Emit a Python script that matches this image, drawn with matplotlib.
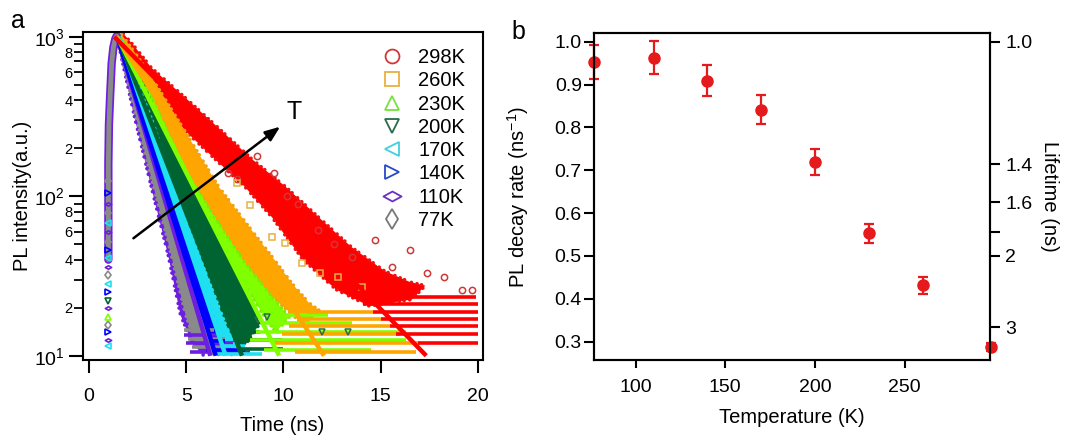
import numpy as np
import matplotlib
matplotlib.use('Agg')
import matplotlib.pyplot as plt
from matplotlib.path import Path
from matplotlib.lines import Line2D
from matplotlib.ticker import FixedLocator, FuncFormatter

plt.rcParams['font.family'] = ['Liberation Sans', 'DejaVu Sans']
plt.rcParams['mathtext.fontset'] = 'custom'
plt.rcParams['mathtext.rm'] = 'Liberation Sans'
plt.rcParams['mathtext.it'] = 'Liberation Sans:italic'
plt.rcParams['mathtext.bf'] = 'Liberation Sans:bold'

# ------------------------------------------------------------------ data
# panel b
temperatures = [77, 110, 140, 170, 200, 230, 260, 298]
decay_rate = [0.953, 0.963, 0.909, 0.841, 0.720, 0.553, 0.431, 0.287]
decay_err = [0.039, 0.038, 0.036, 0.034, 0.030, 0.022, 0.019, 0.010]
lifetime_ticks = [1.0, 1.4, 1.6, 1.8, 2, 3]
lifetime_labels = ['1.0', '1.4', '1.6', '', '2', '3']

# panel a (series order: 298K ... 77K)
series_labels = ['298K', '260K', '230K', '200K', '170K', '140K', '110K', '77K']
series_rate = [0.287, 0.431, 0.553, 0.720, 0.841, 0.909, 0.963, 0.953]
fit_start = [1.30, 1.40, 1.45, 1.47, 1.55, 1.45, 1.45, 1.45]

band_298_t = [1.60, 1.75, 2.4, 3.2, 4.9, 6.7, 8.4, 10.1, 11.8, 13.5, 15.2, 16.5, 17.3, 16.6, 14.4, 12.7, 11.0, 9.4, 8.0, 6.7, 4.9, 3.2, 2.0]
band_298_v = [1000, 1050, 850, 640, 420, 265, 170, 115, 74, 48, 34, 29, 27.5, 22.5, 20.5, 26, 40, 74, 115, 161, 260, 560, 900]
band_260_t = [1.50, 1.65, 2.4, 3.2, 4.94, 6.66, 8.37, 9.4, 10.43, 11.3, 11.9, 11.0, 10.77, 9.4, 8.03, 6.66, 4.94, 3.23, 2.0]
band_260_v = [1000, 1040, 780, 560, 255, 115, 61, 42, 28.5, 21.5, 19, 15.5, 16.7, 23.5, 38, 67.7, 146, 421, 850]
band_230_t = [1.45, 1.55, 3.23, 4.94, 6.66, 8.03, 9.4, 10.3, 9.6, 8.9, 8.37, 7.51, 6.66, 5.46, 4.08, 2.6]
band_230_v = [1000, 1030, 421, 146, 67.7, 38, 23.5, 17.5, 14.0, 18.5, 23.5, 34.4, 55.7, 109, 225, 560]
band_200_t = [1.45, 1.5, 2.6, 4.08, 5.46, 6.66, 7.51, 8.3, 8.8, 8.0, 7.6, 7.0, 6.31, 5.63, 4.94, 4.08, 3.23]
band_200_v = [1000, 1020, 560, 225, 109, 55.7, 34.4, 22, 16, 11.5, 11.5, 15, 25, 42, 70, 140, 280]
band_170_t = [1.45, 1.5, 3.23, 4.08, 4.94, 5.63, 6.31, 7.0, 7.6, 7.3, 6.31, 5.63, 4.94, 4.08, 3.23]
band_170_v = [1000, 1020, 300, 150, 75, 45, 27, 16, 11.5, 10, 16, 28, 50, 105, 220]
band_140_t = [1.42, 1.48, 3.23, 4.08, 4.94, 5.63, 6.31, 6.9, 6.6, 5.63, 4.94, 4.08, 3.23]
band_140_v = [1000, 1020, 240, 118, 57, 32, 18.5, 11, 10, 18, 33, 75, 165]
band_110_t = [1.35, 1.45, 3.23, 4.08, 4.94, 5.63, 6.3, 5.9, 5.3, 4.7, 4.08, 3.23, 2.37, 1.6]
band_110_v = [1000, 1020, 200, 92, 42, 22.4, 12.5, 10, 12, 18, 42, 110, 300, 800]
band_77_t = [1.35, 1.42, 3.23, 4.08, 4.94, 5.63, 6.2, 5.46, 4.94, 4.08, 3.23, 2.37, 1.6]
band_77_v = [1000, 1010, 190, 88, 40, 21, 12.5, 12, 18.5, 50.7, 126, 331, 820]

# quantised low-count rows in the tails: level, start time, end time
rows_298_level = [12.0, 13.7, 15.3, 16.9, 18.8, 21.0, 23.4]
rows_298_t0 = [16.9, 15.8, 15.5, 15.0, 14.6, 14.1, 13.5]
rows_298_t1 = [20.0, 20.0, 20.0, 20.0, 20.0, 20.0, 19.9]
rows_260_level = [10.6, 12.0, 13.7, 15.3, 16.9, 18.8]
rows_260_t0 = [10.6, 9.4, 9.9, 10.3, 10.8, 11.2]
rows_260_t1 = [16.8, 17.0, 16.0, 15.5, 15.0, 14.6]
rows_230_level = [10.9, 12.5, 14.1, 16.0, 18.0]
rows_230_t0 = [9.0, 8.3, 8.6, 9.0, 9.4]
rows_230_t1 = [14.5, 16.3, 16.3, 13.5, 12.3]
rows_200_level = [11.0, 12.5, 14.1]
rows_200_t0 = [7.6, 7.4, 7.3]
rows_200_t1 = [10.0, 9.9, 8.8]
rows_170_level = [10.3, 11.5]
rows_170_t0 = [6.5, 6.8]
rows_170_t1 = [8.9, 8.0]
rows_140_level = [10.8, 12.3]
rows_140_t0 = [6.0, 6.2]
rows_140_t1 = [8.0, 7.0]
rows_110_level = [10.6, 12.0, 13.5]
rows_110_t0 = [5.2, 5.0, 4.9]
rows_110_t1 = [8.3, 7.4, 6.6]
rows_77_level = [11.3, 12.7, 14.5]
rows_77_t0 = [5.3, 5.1, 4.9]
rows_77_t1 = [7.3, 7.0, 6.4]

# scattered outlying points
out_298_t = [7.17, 7.6, 8.63, 9.49, 10.2, 10.77, 11.8, 12.6, 13.52, 14.72, 15.6, 16.52, 17.4, 18.24, 19.18, 19.7]
out_298_v = [139, 128, 179, 139, 100, 90, 61, 50, 41.7, 53, 36, 46, 33, 31, 25.8, 25.8]
out_260_t = [7.6, 8.3, 9.4, 10.09, 10.95, 11.9, 12.83, 14.03]
out_260_v = [121, 88, 55.7, 50.6, 38, 33, 31, 27]
out_200_t = [8.71, 9.14, 11.97, 13.3]
out_200_v = [16.7, 17.6, 14.1, 14.1]

# common rising edge and the pre-pulse column of points at t ~ 1 ns
rise_t = [0.99, 0.99, 1.02, 1.08, 1.16, 1.25, 1.35, 1.42]
rise_v = [40, 160, 280, 421, 682, 860, 970, 1010]
column_v = [11.5, 12.5, 14, 15.5, 17.5, 20, 22, 25, 28, 32, 36, 41, 46, 52, 60, 68, 78, 90, 105, 125]
column_series = [4, 6, 5, 7, 2, 6, 3, 5, 4, 7, 6, 4, 5, 7, 6, 4, 7, 6, 5, 7]

# ------------------------------------------------------------------ style
band_colors = ['#ff0000', '#ffa500', '#80ff00', '#006432', '#1ee0f0', '#0000ff', '#6e1ee0', '#8a8a8a']
edge_colors = ['#f01010', '#f5a010', '#78f000', '#006432', '#1ee0f0', '#0000ff', '#6e1ee0', '#8a8a8a']
legend_colors = ['#d03838', '#e8b040', '#78e040', '#2a6a48', '#40d0e0', '#2848c8', '#6a30c8', '#777777']
wide_diamond = Path([(-1, 0), (0, 0.55), (1, 0), (0, -0.55), (-1, 0)],
                    [Path.MOVETO, Path.LINETO, Path.LINETO, Path.LINETO, Path.CLOSEPOLY])
markers = ['o', 's', '^', 'v', '<', '>', wide_diamond, 'd']

bands_t = [band_298_t, band_260_t, band_230_t, band_200_t, band_170_t, band_140_t, band_110_t, band_77_t]
bands_v = [band_298_v, band_260_v, band_230_v, band_200_v, band_170_v, band_140_v, band_110_v, band_77_v]
rows_lv = [rows_298_level, rows_260_level, rows_230_level, rows_200_level, rows_170_level, rows_140_level, rows_110_level, rows_77_level]
rows_a = [rows_298_t0, rows_260_t0, rows_230_t0, rows_200_t0, rows_170_t0, rows_140_t0, rows_110_t0, rows_77_t0]
rows_b = [rows_298_t1, rows_260_t1, rows_230_t1, rows_200_t1, rows_170_t1, rows_140_t1, rows_110_t1, rows_77_t1]

FS = 14.5     # axis labels / legend
TS = 14       # tick labels
fig = plt.figure(figsize=(10.65, 4.37), dpi=100)
W, H = 1065, 437
axa = fig.add_axes([82.7 / W, 1 - 360 / H, 399.8 / W, 327.7 / H])
axb = fig.add_axes([594.3 / W, 1 - 360 / H, 395.7 / W, 326.7 / H])

# ------------------------------------------------------------------ panel a
ax = axa
ax.set_yscale('log')
for i in range(8):
    ax.fill(bands_t[i], bands_v[i], facecolor=band_colors[i], edgecolor=edge_colors[i],
            lw=2.5, ls=(0, (0.05, 1.3, 0.05, 2.1, 0.05, 1.6)), capstyle='round', zorder=2)
ax.plot(rise_t, rise_v, color=band_colors[6], lw=6, zorder=2.05, solid_capstyle='round')
ax.plot(rise_t, rise_v, color=band_colors[7], lw=3.5, zorder=2.1, solid_capstyle='round')
for v, s in zip(column_v, column_series):
    ax.plot([0.99], [v], ls='none', marker=markers[s], ms=4.5, mfc='none',
            mec=band_colors[s], mew=1.2, zorder=2.2)
for i in range(7, -1, -1):
    ax.hlines(rows_lv[i], rows_a[i], rows_b[i], colors=band_colors[i], lw=2.6, zorder=3)
for (tt, vv, i) in [(out_298_t, out_298_v, 0), (out_260_t, out_260_v, 1), (out_200_t, out_200_v, 3)]:
    ax.plot(tt, vv, ls='none', marker=markers[i], ms=4.5, mfc='none',
            mec=legend_colors[i], mew=1.1, zorder=3.1)
for i in range(7, -1, -1):
    k, t0 = series_rate[i], fit_start[i]
    tf = np.linspace(t0, t0 + np.log(100.0) / k, 60)
    ax.plot(tf, 1000 * np.exp(-k * (tf - t0)), color=band_colors[i], lw=3.2,
            zorder=4, solid_capstyle='butt')

ax.annotate('', xy=(9.83, 273), xytext=(2.28, 54.5),
            arrowprops=dict(arrowstyle='-|>,head_length=0.9,head_width=0.35', lw=1.8,
                            color='black', shrinkA=0, shrinkB=0), zorder=5)
ax.text(10.55, 339, 'T', fontsize=18, ha='center', va='center', zorder=5)

ax.set_xlim(-0.33, 20.24)
ax.set_ylim(9.4, 1066)
ax.set_xticks([0, 5, 10, 15, 20])
ax.yaxis.set_major_locator(FixedLocator([10, 100, 1000]))
ax.yaxis.set_major_formatter(FuncFormatter(lambda v, p: r'$\mathregular{10^{%d}}$' % round(np.log10(v))))
minor = [m * 10 ** e for e in (1, 2) for m in range(2, 10)]
ax.yaxis.set_minor_locator(FixedLocator(minor))
ax.yaxis.set_minor_formatter(FuncFormatter(
    lambda v, p: ('%d' % round(v / 10 ** np.floor(np.log10(v) + 1e-9)))
    if round(v / 10 ** np.floor(np.log10(v) + 1e-9)) in (2, 4, 6, 8) else ''))
ax.tick_params(axis='x', which='major', direction='out', length=9, width=1.5, labelsize=TS, pad=11)
ax.tick_params(axis='y', which='major', direction='out', length=10, width=1.5, labelsize=TS, pad=3)
ax.tick_params(axis='y', which='minor', direction='out', length=6.5, width=1.3, labelsize=10.5, pad=1)
ax.tick_params(axis='x', which='minor', bottom=False)
for sp in ax.spines.values():
    sp.set_linewidth(1.5)
ax.set_xlabel('Time (ns)', fontsize=FS, labelpad=8)
ax.set_ylabel('PL intensity(a.u.)', fontsize=FS, labelpad=1)

handles = [Line2D([], [], ls='none', marker=markers[i], ms=10 if i != 6 else 13,
                  mfc='none', mec=legend_colors[i], mew=1.3) for i in range(8)]
ax.legend(handles, series_labels, loc='upper left', bbox_to_anchor=(0.7476, 0.9515),
          frameon=False, fontsize=FS, handlelength=1.0, handletextpad=0.81,
          labelspacing=0.21, borderpad=0, borderaxespad=0)

# ------------------------------------------------------------------ panel b
ax = axb
ax.errorbar(temperatures, decay_rate, yerr=decay_err, fmt='o', color='#e41a1c',
            ms=8, elinewidth=1.6, capsize=3.5, capthick=1.6, clip_on=False, zorder=5)
ax.set_xlim(77, 297.5)
ax.set_ylim(0.257, 1.0196)
ax.set_xticks([100, 150, 200, 250])
ax.set_yticks([0.3, 0.4, 0.5, 0.6, 0.7, 0.8, 0.9, 1.0])
ax.yaxis.set_major_formatter(FuncFormatter(lambda v, p: '%.1f' % v))
ax.tick_params(axis='x', direction='out', length=6, width=1.5, labelsize=TS, pad=8)
ax.tick_params(axis='y', direction='out', length=7, width=1.5, labelsize=TS, pad=2)
for sp in ax.spines.values():
    sp.set_linewidth(1.5)
ax.set_xlabel('Temperature (K)', fontsize=FS, labelpad=8)
ax.set_ylabel(r'PL decay rate (ns$^{\mathregular{-1}}$)', fontsize=FS, labelpad=17)

ax2 = ax.twinx()
ax2.set_ylim(ax.get_ylim())
ax2.set_yticks([1.0 / x for x in lifetime_ticks])
ax2.set_yticklabels(lifetime_labels)
ax2.tick_params(axis='y', direction='out', length=7, width=1.5, labelsize=TS, pad=4)
for sp in ax2.spines.values():
    sp.set_linewidth(1.5)
ax2.set_ylabel('Lifetime (ns)', fontsize=FS, rotation=270, labelpad=19)

fig.text(18 / W, 1 - 21 / H, 'a', fontsize=18, ha='center', va='center')
fig.text(518 / W, 1 - 32 / H, 'b', fontsize=18, ha='center', va='center')

fig.savefig('out.png', dpi=100)
